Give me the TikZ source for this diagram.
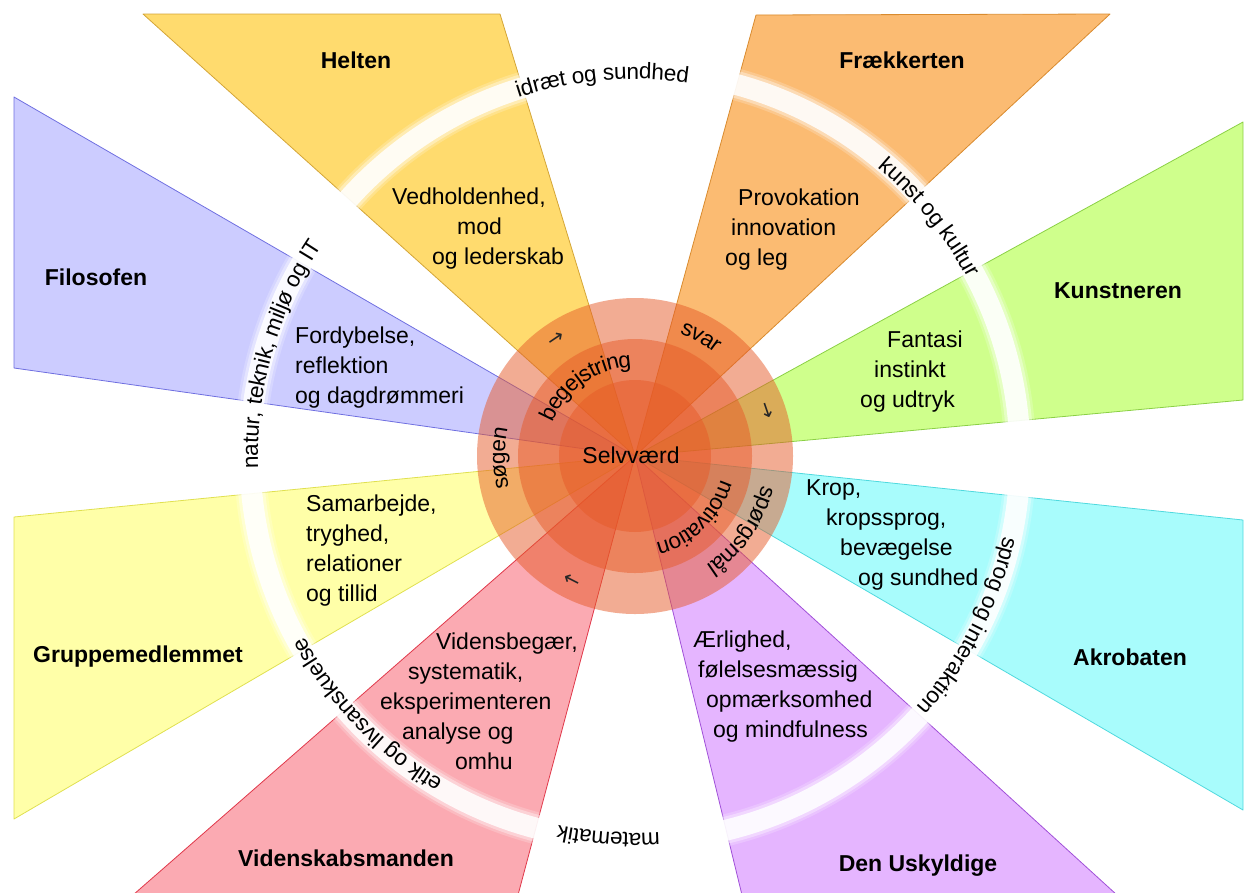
\documentclass[tikz,border=0pt]{standalone}
\usepackage{fontspec}
\setmainfont{Liberation Sans}
\newfontfamily\arrowfont{DejaVu Sans}
\usetikzlibrary{decorations.text}

\definecolor{heltenfill}{HTML}{FFDB6E}
\definecolor{heltenline}{HTML}{D4A537}
\definecolor{fraekfill}{HTML}{FBBB72}
\definecolor{fraekline}{HTML}{D98B2E}
\definecolor{kunstfill}{HTML}{CFFF8C}
\definecolor{kunstline}{HTML}{8BD045}
\definecolor{akrofill}{HTML}{A8FCFC}
\definecolor{akroline}{HTML}{4FD9DE}
\definecolor{uskyfill}{HTML}{E5B5FF}
\definecolor{uskyline}{HTML}{A050D8}
\definecolor{videnfill}{HTML}{FBAAB2}
\definecolor{videnline}{HTML}{E0384A}
\definecolor{gruppefill}{HTML}{FFFFA8}
\definecolor{gruppeline}{HTML}{E0E050}
\definecolor{filofill}{HTML}{CCCCFF}
\definecolor{filoline}{HTML}{6F6FE0}
\definecolor{discred}{HTML}{E65A28}

\newcommand{\ringfont}{\fontsize{22.5}{26}\selectfont}

\begin{document}
\begin{tikzpicture}[x=1pt, y=1pt,
  wedge/.style={line width=0.8pt, line join=round},
  rolelabel/.style={font=\fontsize{23}{30}\selectfont\bfseries, inner sep=0pt},
  roletext/.style={font=\fontsize{23}{30}\selectfont, align=left, anchor=west, inner sep=0pt},
  disc/.style={fill=discred, fill opacity=0.5},
  band/.style={white, line width=#1},
  ringtext/.style={decorate, decoration={text along path, text align=center, raise=-8pt, text={|\ringfont|#1}}},
  arrowmark/.style={font=\arrowfont\fontsize{20}{20}\selectfont, text=black!85, inner sep=0pt, rotate=#1}]
\useasboundingbox (0,0) rectangle (1246,-892);
\coordinate (c) at (635,-456);

% the eight wedges
\filldraw[wedge, fill=heltenfill, draw=heltenline] (c) -- (143,-14) -- (500,-14) -- cycle;
\filldraw[wedge, fill=fraekfill, draw=fraekline] (c) -- (756,-15) -- (1110,-14) -- cycle;
\filldraw[wedge, fill=kunstfill, draw=kunstline] (c) -- (1243,-122) -- (1243,-400) -- cycle;
\filldraw[wedge, fill=akrofill, draw=akroline] (c) -- (1243,-520) -- (1243,-810) -- cycle;
\filldraw[wedge, fill=uskyfill, draw=uskyline] (c) -- (1117,-895) -- (742,-895) -- cycle;
\filldraw[wedge, fill=videnfill, draw=videnline] (c) -- (518,-895) -- (133,-895) -- cycle;
\filldraw[wedge, fill=gruppefill, draw=gruppeline] (c) -- (14,-819) -- (14,-517) -- cycle;
\filldraw[wedge, fill=filofill, draw=filoline] (c) -- (14,-368) -- (14,-97) -- cycle;

% white ring, soft edges
\draw[band=32pt, opacity=0.2] (c) circle[radius=385pt];
\draw[band=27pt, opacity=0.35] (c) circle[radius=385pt];
\draw[band=21pt, opacity=0.85] (c) circle[radius=385pt];

% centre discs
\fill[disc] (c) circle[radius=158pt];
\fill[disc] (c) circle[radius=117pt];
\fill[disc] (c) circle[radius=76pt];

% names
\node[rolelabel] (helten) at (356,-60) {Helten};
\node[rolelabel] (fraek) at (902,-60) {Frækkerten};
\node[rolelabel] (kunst) at (1118,-291) {Kunstneren};
\node[rolelabel] (akro) at (1130,-657) {Akrobaten};
\node[rolelabel] (usky) at (918,-866) {Den Uskyldige};
\node[rolelabel] (viden) at (346,-858) {Videnskabsmanden};
\node[rolelabel] (gruppe) at (138,-657) {Gruppemedlemmet};
\node[rolelabel] (filo) at (96,-277) {Filosofen};

% qualities
\node[roletext] (heltenq) at (392,-229) {Vedholdenhed,\\\hspace*{65pt}mod\\\hspace*{40pt}og lederskab};
\node[roletext] (fraekq) at (725,-230) {\hspace*{13pt}Provokation\\\hspace*{6pt}innovation\\og leg};
\node[roletext] (kunstq) at (860,-372) {\hspace*{27pt}Fantasi\\\hspace*{14pt}instinkt\\og udtryk};
\node[roletext] (akroq) at (806,-535) {Krop,\\\hspace*{20pt}kropssprog,\\\hspace*{34pt}bevægelse\\\hspace*{52pt}og sundhed};
\node[roletext] (uskyq) at (693,-687) {Ærlighed,\\\hspace*{5pt}følelsesmæssig\\\hspace*{13pt}opmærksomhed\\\hspace*{20pt}og mindfulness};
\node[roletext] (videnq) at (380,-701) {\hspace*{56pt}Vidensbegær,\\\hspace*{28pt}systematik,\\eksperimenteren\\\hspace*{22pt}analyse og\\\hspace*{75pt}omhu};
\node[roletext] (gruppeq) at (306,-551) {Samarbejde,\\tryghed,\\relationer\\og tillid};
\node[roletext] (filoq) at (295,-368) {Fordybelse,\\reflektion\\og dagdrømmeri};

% subjects on the ring
\path[ringtext={idræt og sundhed}] (c) ++(135:385pt) arc[start angle=135, end angle=55, radius=385pt];
\path[ringtext={kunst og kultur}] (c) ++(79:385pt) arc[start angle=79, end angle=-1, radius=385pt];
\path[ringtext={sprog og interaktion}] (c) ++(13:385pt) arc[start angle=13, end angle=-67, radius=385pt];
\path[ringtext={matematik}] (c) ++(-54:385pt) arc[start angle=-54, end angle=-134, radius=385pt];
\path[ringtext={etik og livsanskuelse}] (c) ++(-96:385pt) arc[start angle=-96, end angle=-176, radius=385pt];
\path[ringtext={natur, teknik, miljø og IT}] (c) ++(204:385pt) arc[start angle=204, end angle=124, radius=385pt];

% words in the discs
\node[font=\fontsize{23}{30}\selectfont, inner sep=0pt] (self) at (631,-455) {Selvværd};
\path[ringtext={svar}] (c) ++(106:138pt) arc[start angle=106, end angle=16, radius=138pt];
\path[ringtext={spørgsmål}] (c) ++(10:138pt) arc[start angle=10, end angle=-80, radius=138pt];
\path[ringtext={søgen}] (c) ++(226:138pt) arc[start angle=226, end angle=136, radius=138pt];
\path[ringtext={begejstring}] (c) ++(185:97pt) arc[start angle=185, end angle=65, radius=97pt];
\path[ringtext={motivation}] (c) ++(14:97pt) arc[start angle=14, end angle=-106, radius=97pt];
\node[arrowmark=34] (arrowa) at ([shift={(124:141pt)}]c) {→};
\node[arrowmark=-71] (arrowb) at ([shift={(19:139pt)}]c) {→};
\node[arrowmark=153] (arrowc) at ([shift={(-117:138pt)}]c) {→};
\end{tikzpicture}
\end{document}
